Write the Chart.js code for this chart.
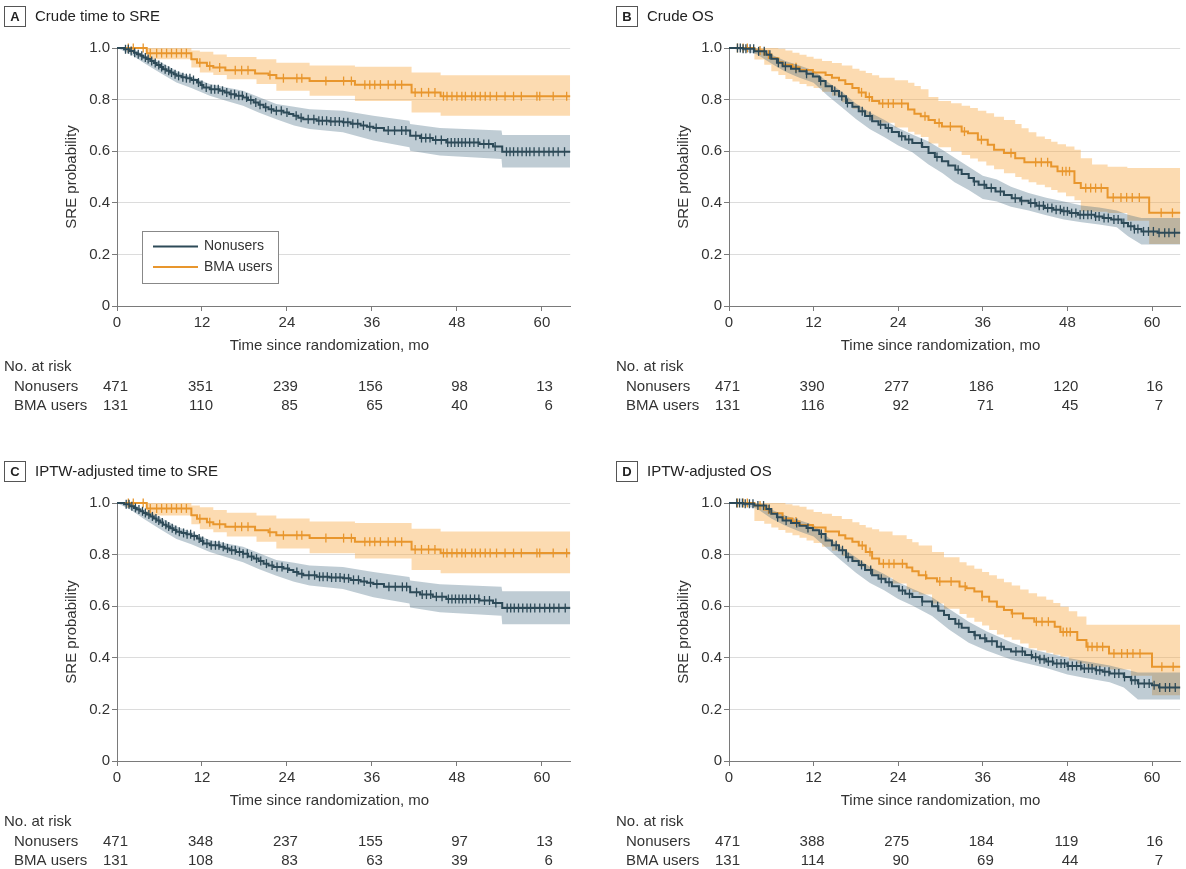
<!DOCTYPE html>
<html>
<head>
<meta charset="utf-8">
<script src="https://cdn.jsdelivr.net/npm/chart.js@4.4.0/dist/chart.umd.min.js"></script>
<style>
  html, body { margin: 0; padding: 0; background: #fff; }
  body { width: 1186px; height: 869px; position: relative; overflow: hidden; }
  canvas { position: absolute; }
</style>
</head>
<body>
<canvas id="panelA" width="576" height="414" style="left:0;top:0"></canvas>
<canvas id="panelB" width="574" height="414" style="left:612px;top:0"></canvas>
<canvas id="panelC" width="576" height="414" style="left:0;top:455px"></canvas>
<canvas id="panelD" width="574" height="414" style="left:612px;top:455px"></canvas>
<script>
// axes
var xTicks = [0, 12, 24, 36, 48, 60];
var yTicks = [0, 0.2, 0.4, 0.6, 0.8, 1.0];
var groups = ['Nonusers', 'BMA users'];

// ---- A: crude time to SRE ----
var aNonT = [0, 1.0, 1.8, 2.4, 2.8, 3.3, 3.7, 4.2, 4.7, 5.2, 5.6, 6.1, 6.5, 7.0, 7.5, 8.0, 8.4, 9.1, 9.8, 10.5, 11.3, 11.8, 12.2, 13.1, 14.5, 15.2, 15.9, 16.8, 17.8, 18.5, 19.3, 20.0, 20.7, 21.4, 22.1, 23.5, 24.3, 24.9, 25.6, 26.3, 28.2, 30.0, 31.9, 33.0, 34.4, 35.3, 36.2, 37.7, 41.4, 42.8, 44.6, 46.5, 51.2, 53.1, 54.4, 64];
var aNonS = [1, 0.995, 0.988, 0.982, 0.976, 0.97, 0.963, 0.957, 0.95, 0.942, 0.934, 0.926, 0.918, 0.912, 0.905, 0.898, 0.892, 0.887, 0.883, 0.876, 0.866, 0.857, 0.847, 0.84, 0.834, 0.828, 0.821, 0.815, 0.808, 0.798, 0.789, 0.78, 0.77, 0.763, 0.757, 0.75, 0.744, 0.737, 0.73, 0.724, 0.718, 0.715, 0.712, 0.706, 0.70, 0.695, 0.69, 0.68, 0.66, 0.651, 0.643, 0.634, 0.628, 0.618, 0.598, 0.598];
var aNonBandT = [0, 2, 3.7, 6, 8.4, 10.5, 13.1, 15.5, 17.8, 20, 22.5, 25, 27.2, 31.9, 36.2, 41.3, 41.4, 45.6, 54.3, 54.4, 64];
var aNonLo = [1, 0.975, 0.944, 0.905, 0.866, 0.845, 0.815, 0.795, 0.776, 0.75, 0.724, 0.70, 0.686, 0.673, 0.641, 0.615, 0.602, 0.583, 0.57, 0.537, 0.537];
var aNonHi = [1, 1, 0.976, 0.948, 0.911, 0.89, 0.86, 0.847, 0.834, 0.81, 0.783, 0.772, 0.763, 0.757, 0.737, 0.718, 0.705, 0.69, 0.68, 0.663, 0.663];
var aNonCens = [1.2, 1.6, 2.0, 2.5, 3.0, 3.5, 4.0, 4.4, 4.9, 5.4, 5.9, 6.3, 6.8, 7.3, 7.7, 8.2, 8.7, 9.3, 9.8, 10.3, 10.8, 11.5, 12.0, 12.6, 13.3, 13.8, 14.3, 14.9, 15.5, 16.1, 16.6, 17.2, 17.7, 18.3, 18.9, 19.6, 20.2, 21.0, 21.8, 22.5, 23.2, 24.0, 25.3, 26.0, 27.0, 27.8, 28.5, 29.0, 29.6, 30.2, 30.8, 31.4, 32.0, 32.6, 33.3, 34.0, 34.8, 35.7, 36.6, 38.3, 39.2, 40.2, 40.8, 42.2, 43.0, 43.6, 44.2, 45.0, 45.8, 46.7, 47.2, 47.7, 48.2, 48.7, 49.2, 49.8, 50.4, 51.0, 51.8, 52.5, 53.4, 55.0, 55.5, 56.0, 56.6, 57.2, 57.8, 58.3, 58.9, 59.6, 60.3, 61.0, 61.6, 62.3, 63.2];
var aBmaT = [0, 4.2, 10.5, 11.3, 12.7, 13.6, 15.3, 19.5, 21.4, 22.5, 27.2, 33.6, 41.6, 45.7, 64];
var aBmaS = [1, 0.98, 0.956, 0.943, 0.93, 0.924, 0.914, 0.901, 0.895, 0.883, 0.872, 0.858, 0.828, 0.813, 0.813];
var aBmaBandT = [0, 4.2, 10.5, 11.7, 13.6, 15.5, 19.7, 22.5, 27.2, 33.6, 41.6, 45.7, 64];
var aBmaLo = [1, 0.956, 0.924, 0.905, 0.895, 0.879, 0.86, 0.834, 0.815, 0.795, 0.75, 0.737, 0.737];
var aBmaHi = [1, 1, 0.99, 0.985, 0.975, 0.965, 0.956, 0.943, 0.932, 0.927, 0.905, 0.894, 0.894];
var aBmaCens = [1.6, 2.3, 3.7, 4.7, 5.6, 6.3, 7.0, 7.7, 8.4, 9.1, 9.8, 11.7, 13.1, 14.5, 16.7, 17.6, 18.5, 21.6, 23.5, 25.4, 26.1, 29.5, 32.0, 33.1, 35.0, 35.7, 36.4, 37.2, 38.3, 39.3, 40.2, 42.1, 43.0, 44.0, 44.9, 46.1, 46.6, 47.3, 48.0, 48.7, 49.2, 50.1, 50.6, 51.3, 52.0, 52.7, 53.6, 54.8, 56.0, 57.1, 59.3, 59.7, 61.6, 63.5];
var aRiskNon = [471, 351, 239, 156, 98, 13];
var aRiskBma = [131, 110, 85, 65, 40, 6];

// ---- B: crude OS ----
var bNonT = [0, 2.0, 3.6, 5.3, 6.0, 6.8, 7.6, 8.8, 10.0, 11.0, 11.9, 12.8, 13.7, 14.6, 15.6, 16.6, 17.5, 18.4, 19.3, 20.3, 21.2, 22.2, 23.1, 24.1, 25.0, 26.0, 27.4, 28.3, 29.2, 30.2, 31.1, 32.1, 33.0, 34.0, 34.7, 35.4, 36.5, 37.8, 39.0, 40.1, 41.3, 42.5, 43.6, 44.8, 46.0, 47.2, 48.3, 49.5, 51.9, 53.0, 54.2, 55.7, 56.6, 57.5, 58.5, 60.8, 64];
var bNonS = [1, 0.997, 0.987, 0.974, 0.958, 0.943, 0.929, 0.92, 0.91, 0.90, 0.89, 0.872, 0.852, 0.833, 0.813, 0.787, 0.772, 0.755, 0.736, 0.716, 0.703, 0.69, 0.674, 0.658, 0.645, 0.632, 0.616, 0.593, 0.578, 0.561, 0.545, 0.528, 0.512, 0.496, 0.483, 0.47, 0.457, 0.444, 0.43, 0.418, 0.408, 0.399, 0.389, 0.38, 0.373, 0.367, 0.36, 0.354, 0.347, 0.341, 0.335, 0.322, 0.309, 0.298, 0.289, 0.284, 0.284];
var bNonBandT = [0, 2, 4, 6, 8, 10, 12, 14, 16, 18, 20, 22, 24, 26, 28.3, 30.3, 32, 34, 36, 38, 40, 42.5, 45, 47.5, 50, 52.5, 55, 56.6, 58.5, 64];
var bNonLo = [1, 0.99, 0.975, 0.94, 0.908, 0.885, 0.865, 0.815, 0.77, 0.725, 0.685, 0.655, 0.622, 0.596, 0.548, 0.515, 0.48, 0.45, 0.415, 0.405, 0.385, 0.37, 0.352, 0.335, 0.325, 0.316, 0.305, 0.27, 0.238, 0.238];
var bNonHi = [1, 1, 0.997, 0.975, 0.95, 0.932, 0.913, 0.868, 0.83, 0.785, 0.75, 0.722, 0.69, 0.665, 0.638, 0.605, 0.575, 0.54, 0.505, 0.49, 0.462, 0.438, 0.42, 0.405, 0.39, 0.382, 0.37, 0.354, 0.341, 0.341];
var bNonCens = [1.2, 1.6, 2.0, 2.4, 3.0, 3.5, 4.2, 5.0, 5.8, 7.0, 8.0, 9.5, 11.0, 13.0, 15.0, 16.0, 16.8, 18.9, 20.0, 21.5, 22.6, 24.5, 25.5, 27.3, 29.5, 32.5, 34.8, 36.2, 37.2, 38.5, 40.6, 41.5, 42.8, 43.4, 44.0, 44.6, 45.2, 45.8, 46.4, 47.0, 47.5, 48.0, 48.6, 49.2, 49.8, 50.3, 50.9, 51.4, 52.0, 52.5, 53.2, 53.8, 54.6, 55.2, 56.0, 57.0, 57.5, 58.0, 58.8, 59.5, 60.2, 61.0, 61.8, 62.4, 63.2];
var bBmaT = [0, 3.6, 5.0, 6.0, 7.0, 7.6, 9.0, 10.0, 11.9, 13.7, 14.6, 15.6, 16.5, 17.5, 18.4, 19.4, 20.3, 21.3, 25.4, 26.3, 27.2, 28.3, 29.2, 30.2, 33.0, 33.9, 35.3, 36.7, 37.6, 39.0, 40.6, 41.9, 45.7, 46.6, 49.0, 49.9, 53.7, 59.6, 64];
var bBmaS = [1, 0.99, 0.975, 0.96, 0.945, 0.935, 0.925, 0.915, 0.905, 0.895, 0.885, 0.875, 0.86, 0.845, 0.828, 0.81, 0.795, 0.785, 0.762, 0.745, 0.735, 0.721, 0.709, 0.696, 0.676, 0.67, 0.644, 0.625, 0.606, 0.593, 0.573, 0.557, 0.541, 0.522, 0.477, 0.457, 0.421, 0.361, 0.361];
var bBmaBandT = [0, 3.6, 5, 6, 7, 8, 9, 10, 11, 12, 13.2, 14.6, 16, 17.5, 18.5, 19.4, 20.3, 21.3, 23.5, 25.4, 26.3, 27.2, 28.3, 29.7, 31.5, 33.0, 34.2, 35.3, 36.5, 37.6, 39, 40.6, 41.5, 42.5, 43.6, 44.8, 45.7, 46.6, 47.8, 49.0, 49.9, 51.5, 53.7, 56.5, 59.6, 64];
var bBmaLo = [1, 0.955, 0.935, 0.91, 0.895, 0.88, 0.87, 0.86, 0.852, 0.845, 0.83, 0.815, 0.79, 0.765, 0.75, 0.735, 0.722, 0.71, 0.692, 0.675, 0.665, 0.655, 0.63, 0.615, 0.60, 0.585, 0.572, 0.56, 0.545, 0.53, 0.515, 0.50, 0.49, 0.48, 0.47, 0.46, 0.45, 0.44, 0.425, 0.41, 0.367, 0.365, 0.36, 0.33, 0.24, 0.24];
var bBmaHi = [1, 1, 1, 1, 0.997, 0.99, 0.982, 0.974, 0.966, 0.958, 0.95, 0.942, 0.932, 0.92, 0.912, 0.903, 0.894, 0.885, 0.875, 0.865, 0.853, 0.84, 0.81, 0.795, 0.786, 0.776, 0.767, 0.757, 0.747, 0.734, 0.721, 0.705, 0.689, 0.673, 0.657, 0.647, 0.637, 0.627, 0.618, 0.606, 0.573, 0.548, 0.54, 0.535, 0.535, 0.535];
var bBmaCens = [1.2, 2.0, 2.6, 4.4, 5.6, 9.5, 18.8, 19.9, 21.8, 22.6, 23.3, 24.5, 27.8, 29.8, 31.4, 33.4, 35.8, 40.0, 43.5, 44.3, 45.2, 47.3, 47.8, 48.3, 50.6, 51.3, 52.0, 52.8, 54.5, 55.6, 56.4, 57.2, 58.2, 61.3, 62.9];
var bRiskNon = [471, 390, 277, 186, 120, 16];
var bRiskBma = [131, 116, 92, 71, 45, 7];

// ---- C: IPTW-adjusted time to SRE ----
var cNonT = [0, 1.0, 1.8, 2.4, 2.8, 3.3, 3.7, 4.2, 4.7, 5.2, 5.6, 6.1, 6.5, 7.0, 7.5, 8.0, 8.4, 9.1, 9.8, 10.5, 11.3, 11.8, 12.2, 13.1, 14.5, 15.2, 15.9, 16.8, 17.8, 18.5, 19.3, 20.0, 20.7, 21.4, 22.1, 23.5, 24.3, 24.9, 25.6, 26.3, 28.2, 30.0, 31.9, 33.0, 34.4, 35.3, 36.2, 37.7, 41.4, 42.8, 44.6, 46.5, 51.2, 53.1, 54.4, 64];
var cNonS = [1, 0.995, 0.987, 0.981, 0.975, 0.968, 0.961, 0.955, 0.948, 0.94, 0.932, 0.924, 0.916, 0.909, 0.902, 0.895, 0.889, 0.884, 0.879, 0.872, 0.862, 0.853, 0.843, 0.836, 0.83, 0.824, 0.817, 0.81, 0.803, 0.793, 0.785, 0.775, 0.765, 0.758, 0.752, 0.746, 0.74, 0.733, 0.726, 0.72, 0.714, 0.711, 0.708, 0.702, 0.696, 0.691, 0.686, 0.675, 0.654, 0.645, 0.637, 0.628, 0.622, 0.612, 0.593, 0.593];
var cNonBandT = [0, 2, 3.7, 6, 8.4, 10.5, 13.1, 15.5, 17.8, 20, 22.5, 25, 27.2, 31.9, 36.2, 41.3, 41.4, 45.6, 54.3, 54.4, 64];
var cNonLo = [1, 0.973, 0.94, 0.9, 0.86, 0.84, 0.81, 0.79, 0.77, 0.744, 0.718, 0.695, 0.68, 0.667, 0.635, 0.61, 0.595, 0.577, 0.563, 0.53, 0.53];
var cNonHi = [1, 1, 0.975, 0.946, 0.909, 0.887, 0.857, 0.843, 0.83, 0.806, 0.779, 0.768, 0.758, 0.752, 0.733, 0.713, 0.70, 0.685, 0.675, 0.658, 0.658];
var cNonCens = [1.3, 1.7, 2.1, 2.6, 3.1, 3.6, 4.0, 4.5, 5.0, 5.5, 5.9, 6.4, 6.9, 7.3, 7.8, 8.3, 8.8, 9.4, 9.9, 10.4, 10.9, 11.6, 12.1, 12.7, 13.3, 13.9, 14.4, 15.0, 15.6, 16.2, 16.7, 17.3, 17.8, 18.4, 19.0, 19.7, 20.3, 21.1, 21.9, 22.6, 23.3, 24.1, 25.4, 26.1, 27.1, 27.9, 28.6, 29.1, 29.7, 30.3, 30.9, 31.5, 32.1, 32.7, 33.4, 34.1, 34.9, 35.8, 36.7, 38.4, 39.3, 40.3, 40.9, 42.3, 43.1, 43.7, 44.3, 45.1, 45.9, 46.8, 47.3, 47.8, 48.3, 48.8, 49.3, 49.9, 50.5, 51.1, 51.9, 52.6, 53.5, 55.1, 55.6, 56.1, 56.7, 57.3, 57.9, 58.4, 59.0, 59.7, 60.4, 61.1, 61.7, 62.4, 63.3];
var cBmaT = [0, 4.2, 10.5, 11.3, 12.7, 13.6, 15.3, 19.5, 21.4, 22.5, 27.2, 33.6, 41.6, 45.7, 64];
var cBmaS = [1, 0.979, 0.953, 0.939, 0.925, 0.918, 0.908, 0.894, 0.887, 0.875, 0.864, 0.85, 0.82, 0.806, 0.806];
var cBmaBandT = [0, 4.2, 10.5, 11.7, 13.6, 15.5, 19.7, 22.5, 27.2, 33.6, 41.6, 45.7, 64];
var cBmaLo = [1, 0.952, 0.918, 0.898, 0.887, 0.87, 0.85, 0.824, 0.805, 0.785, 0.74, 0.728, 0.728];
var cBmaHi = [1, 1, 0.99, 0.984, 0.973, 0.962, 0.952, 0.94, 0.928, 0.922, 0.90, 0.89, 0.89];
var cBmaCens = [1.6, 2.3, 3.7, 4.7, 5.6, 6.3, 7.0, 7.7, 8.4, 9.1, 9.8, 11.7, 13.1, 14.5, 16.7, 17.6, 18.5, 21.6, 23.5, 25.4, 26.1, 29.5, 32.0, 33.1, 35.0, 35.7, 36.4, 37.2, 38.3, 39.3, 40.2, 42.1, 43.0, 44.0, 44.9, 46.1, 46.6, 47.3, 48.0, 48.7, 49.2, 50.1, 50.6, 51.3, 52.0, 52.7, 53.6, 54.8, 56.0, 57.1, 59.3, 59.7, 61.6, 63.5];
var cRiskNon = [471, 348, 237, 155, 97, 13];
var cRiskBma = [131, 108, 83, 63, 39, 6];

// ---- D: IPTW-adjusted OS ----
var dNonT = [0, 2.0, 3.6, 5.3, 6.0, 6.8, 7.6, 8.8, 10.0, 11.0, 11.9, 12.8, 13.7, 14.6, 15.6, 16.6, 17.5, 18.4, 19.3, 20.3, 21.2, 22.2, 23.1, 24.1, 25.0, 26.0, 27.4, 28.8, 29.7, 30.5, 31.2, 32.1, 33.0, 34.0, 34.8, 35.6, 36.5, 38.0, 39.0, 40.0, 42.0, 43.0, 44.0, 45.0, 46.0, 48.0, 50.0, 52.0, 53.0, 54.0, 56.0, 57.0, 58.0, 60.0, 61.0, 64];
var dNonS = [1, 0.997, 0.99, 0.977, 0.958, 0.945, 0.932, 0.922, 0.912, 0.903, 0.894, 0.88, 0.855, 0.836, 0.817, 0.79, 0.775, 0.76, 0.74, 0.72, 0.706, 0.693, 0.677, 0.661, 0.648, 0.636, 0.618, 0.60, 0.582, 0.566, 0.55, 0.532, 0.516, 0.50, 0.487, 0.476, 0.464, 0.443, 0.433, 0.424, 0.411, 0.402, 0.394, 0.386, 0.378, 0.368, 0.359, 0.352, 0.346, 0.339, 0.326, 0.313, 0.30, 0.294, 0.285, 0.285];
var dNonBandT = [0, 2, 4, 6, 8, 10, 12, 14, 16, 18, 20, 22, 24, 26, 28.8, 31.2, 34, 36.5, 40, 42, 45, 48, 50, 54, 56, 58, 64];
var dNonLo = [1, 0.99, 0.978, 0.94, 0.912, 0.89, 0.87, 0.822, 0.775, 0.73, 0.69, 0.662, 0.628, 0.603, 0.562, 0.51, 0.458, 0.428, 0.393, 0.38, 0.36, 0.335, 0.325, 0.305, 0.285, 0.238, 0.238];
var dNonHi = [1, 1, 0.997, 0.975, 0.952, 0.933, 0.915, 0.868, 0.828, 0.79, 0.752, 0.725, 0.693, 0.668, 0.635, 0.59, 0.54, 0.503, 0.46, 0.44, 0.42, 0.40, 0.39, 0.37, 0.357, 0.343, 0.343];
var dNonCens = [1.1, 1.5, 1.9, 2.3, 2.9, 3.4, 4.1, 4.9, 5.7, 6.9, 8.1, 9.6, 11.2, 13.1, 15.2, 16.1, 16.9, 18.8, 20.1, 21.6, 22.7, 24.6, 25.6, 27.4, 29.6, 32.6, 34.9, 36.3, 37.3, 38.6, 40.7, 41.6, 42.9, 43.5, 44.1, 44.7, 45.3, 45.9, 46.5, 47.1, 47.6, 48.1, 48.7, 49.3, 49.9, 50.4, 51.0, 51.5, 52.1, 52.6, 53.3, 53.9, 54.7, 55.3, 56.1, 57.1, 57.6, 58.1, 58.9, 59.6, 60.3, 61.1, 61.9, 62.5, 63.3];
var dBmaT = [0, 3.6, 5.0, 6.0, 7.6, 9.0, 10.0, 11.9, 13.7, 15.6, 16.5, 17.5, 18.4, 19.4, 20.3, 21.3, 25.2, 26.0, 26.9, 28.0, 29.5, 32.7, 33.7, 34.8, 35.9, 36.9, 38.0, 39.0, 40.1, 41.7, 43.3, 46.2, 47.0, 49.4, 50.7, 53.9, 60.0, 64];
var dBmaS = [1, 0.99, 0.975, 0.96, 0.94, 0.928, 0.915, 0.905, 0.89, 0.875, 0.862, 0.85, 0.835, 0.81, 0.785, 0.765, 0.75, 0.735, 0.72, 0.708, 0.696, 0.676, 0.67, 0.657, 0.637, 0.618, 0.598, 0.585, 0.572, 0.553, 0.54, 0.52, 0.50, 0.469, 0.443, 0.417, 0.365, 0.365];
var dBmaBandT = [0, 3.6, 5, 6, 7, 8, 9, 10, 11, 12, 13.2, 14.6, 16, 17.5, 18.5, 19.4, 20.3, 21.3, 23.2, 25.2, 26.0, 26.9, 28.8, 30.5, 32.7, 33.7, 34.8, 35.9, 36.9, 38.0, 39.0, 40.1, 41.3, 42.5, 43.7, 45, 46.0, 47.0, 48.2, 49.4, 50.7, 53.9, 57, 60.0, 64];
var dBmaLo = [1, 0.93, 0.92, 0.905, 0.895, 0.885, 0.875, 0.865, 0.855, 0.845, 0.83, 0.815, 0.795, 0.77, 0.752, 0.735, 0.722, 0.71, 0.688, 0.665, 0.655, 0.645, 0.61, 0.59, 0.57, 0.555, 0.54, 0.525, 0.508, 0.49, 0.48, 0.47, 0.455, 0.437, 0.428, 0.42, 0.412, 0.404, 0.39, 0.378, 0.365, 0.355, 0.33, 0.255, 0.255];
var dBmaHi = [1, 1, 1, 1, 1, 0.995, 0.99, 0.985, 0.975, 0.965, 0.958, 0.95, 0.938, 0.925, 0.915, 0.905, 0.898, 0.89, 0.875, 0.86, 0.848, 0.835, 0.81, 0.79, 0.77, 0.758, 0.745, 0.733, 0.72, 0.706, 0.693, 0.68, 0.665, 0.65, 0.638, 0.625, 0.612, 0.598, 0.58, 0.56, 0.528, 0.528, 0.528, 0.528, 0.528];
var dBmaCens = [1.2, 2.0, 2.6, 4.4, 5.6, 9.5, 18.9, 20.0, 21.9, 22.7, 23.4, 24.6, 27.9, 29.9, 31.5, 33.5, 35.9, 40.2, 43.6, 44.4, 45.3, 47.4, 47.9, 48.4, 50.9, 51.5, 52.2, 53.0, 54.6, 55.7, 56.5, 57.3, 58.3, 61.4, 63.0];
var dRiskNon = [471, 388, 275, 184, 119, 16];
var dRiskBma = [131, 114, 90, 69, 44, 7];

// ---- styling ----
var FONT = '"Liberation Sans", Arial, sans-serif';
var TEXT = '#333333';
var AXIS = '#7a7a7a';
var GRID = '#dcdcdc';
var NON_LINE = '#2d4a58';
var NON_BAND = 'rgba(60,100,125,0.33)';
var BMA_LINE = '#e8962d';
var BMA_BAND = 'rgba(248,170,70,0.42)';

function pts(ts, vs) {
  return ts.map(function (t, i) { return {x: t, y: vs[i]}; });
}

// censor mark sits on the step curve at its time
function stepAt(ts, ss, t) {
  var v = ss[0];
  for (var i = 0; i < ts.length; i++) {
    if (ts[i] <= t) v = ss[i]; else break;
  }
  return v;
}

function censPts(cens, ts, ss) {
  return cens.map(function (t) { return {x: t, y: stepAt(ts, ss, t)}; });
}

var panelDecor = {
  id: 'panelDecor',
  afterDraw: function (chart, args, opts) {
    var ctx = chart.ctx;
    var xs = chart.scales.x;
    ctx.save();
    // panel letter and title
    ctx.strokeStyle = '#555';
    ctx.lineWidth = 1;
    ctx.strokeRect(4.5, 6.5, 21, 20);
    ctx.fillStyle = '#222';
    ctx.font = 'bold 13px ' + FONT;
    ctx.textAlign = 'center';
    ctx.textBaseline = 'middle';
    ctx.fillText(opts.letter, 15, 17);
    ctx.font = '15px ' + FONT;
    ctx.textAlign = 'left';
    ctx.fillText(opts.title, 35, 16.5);

    ctx.fillStyle = TEXT;
    ctx.textAlign = 'center';
    ctx.fillText('Time since randomization, mo', xs.getPixelForValue(30), 346);

    // number at risk
    ctx.textAlign = 'left';
    ctx.fillText('No. at risk', 4, 367);
    ctx.fillText(groups[0], 14, 387);
    ctx.fillText(groups[1], 14, 406);
    ctx.textAlign = 'right';
    xTicks.forEach(function (t, i) {
      var px = xs.getPixelForValue(t) + 11;
      ctx.fillText(String(opts.riskNon[i]), px, 387);
      ctx.fillText(String(opts.riskBma[i]), px, 406);
    });

    if (opts.legend) {
      ctx.fillStyle = '#fff';
      ctx.fillRect(142.5, 231.5, 136, 52);
      ctx.strokeStyle = '#888';
      ctx.strokeRect(142.5, 231.5, 136, 52);
      ctx.lineWidth = 2;
      ctx.strokeStyle = NON_LINE;
      ctx.beginPath(); ctx.moveTo(153, 246.5); ctx.lineTo(198, 246.5); ctx.stroke();
      ctx.strokeStyle = BMA_LINE;
      ctx.beginPath(); ctx.moveTo(153, 267); ctx.lineTo(198, 267); ctx.stroke();
      ctx.fillStyle = TEXT;
      ctx.font = '14px ' + FONT;
      ctx.textAlign = 'left';
      ctx.fillText(groups[0], 204, 246);
      ctx.fillText(groups[1], 204, 267);
    }
    ctx.restore();
  }
};

function makePanel(id, p) {
  var tickFont = {family: FONT, size: 15};
  var datasets = [
    // BMA users band
    {data: pts(p.bmaBandT, p.bmaLo), stepped: true, borderWidth: 0, borderColor: 'rgba(0,0,0,0)',
     pointRadius: 0, fill: false, order: 8},
    {data: pts(p.bmaBandT, p.bmaHi), stepped: true, borderWidth: 0, borderColor: 'rgba(0,0,0,0)',
     pointRadius: 0, fill: '-1', backgroundColor: BMA_BAND, order: 7},
    // Nonusers band
    {data: pts(p.nonBandT, p.nonLo), stepped: false, borderWidth: 0, borderColor: 'rgba(0,0,0,0)',
     pointRadius: 0, fill: false, order: 6},
    {data: pts(p.nonBandT, p.nonHi), stepped: false, borderWidth: 0, borderColor: 'rgba(0,0,0,0)',
     pointRadius: 0, fill: '-1', backgroundColor: NON_BAND, order: 5},
    // BMA users curve + censoring
    {label: groups[1], data: pts(p.bmaT, p.bmaS), stepped: true, borderColor: BMA_LINE, borderWidth: 2,
     pointRadius: 0, fill: false, order: 4},
    {data: censPts(p.bmaCens, p.bmaT, p.bmaS), showLine: false, pointStyle: 'line', rotation: 90,
     pointRadius: 4.5, pointBorderWidth: 1.3, pointBorderColor: BMA_LINE, order: 3},
    // Nonusers curve + censoring
    {label: groups[0], data: pts(p.nonT, p.nonS), stepped: true, borderColor: NON_LINE, borderWidth: 2,
     pointRadius: 0, fill: false, order: 2},
    {data: censPts(p.nonCens, p.nonT, p.nonS), showLine: false, pointStyle: 'line', rotation: 90,
     pointRadius: 4.5, pointBorderWidth: 1.3, pointBorderColor: NON_LINE, order: 1}
  ];
  datasets.forEach(function (d) { d.clip = false; });

  return new Chart(document.getElementById(id), {
    type: 'line',
    data: {datasets: datasets},
    plugins: [panelDecor],
    options: {
      responsive: false,
      animation: false,
      events: [],
      layout: {padding: {top: 48, right: 5, bottom: 78, left: 0}},
      plugins: {
        legend: {display: false},
        tooltip: {enabled: false},
        panelDecor: {letter: p.letter, title: p.title, riskNon: p.riskNon, riskBma: p.riskBma, legend: p.legend}
      },
      scales: {
        x: {
          type: 'linear', min: 0, max: 64,
          afterBuildTicks: function (s) { s.ticks = xTicks.map(function (v) { return {value: v}; }); },
          afterFit: function (s) { s.height = 30; },
          grid: {drawOnChartArea: false, tickLength: 5, tickColor: AXIS},
          border: {color: AXIS},
          ticks: {font: tickFont, color: TEXT, padding: 3, maxRotation: 0,
                  callback: function (v) { return String(v); }}
        },
        y: {
          type: 'linear', min: 0, max: 1,
          afterBuildTicks: function (s) { s.ticks = yTicks.map(function (v) { return {value: v}; }); },
          afterFit: function (s) { s.width = 117; },
          grid: {color: GRID, tickLength: 5, tickColor: AXIS},
          border: {color: AXIS},
          ticks: {font: tickFont, color: TEXT, padding: 2,
                  callback: function (v) { return v === 0 ? '0' : v.toFixed(1); }},
          title: {display: true, text: 'SRE probability', font: tickFont, color: TEXT,
                  padding: {top: 63, bottom: 0}}
        }
      }
    }
  });
}

makePanel('panelA', {letter: 'A', title: 'Crude time to SRE', legend: true,
  nonT: aNonT, nonS: aNonS, nonBandT: aNonBandT, nonLo: aNonLo, nonHi: aNonHi, nonCens: aNonCens,
  bmaT: aBmaT, bmaS: aBmaS, bmaBandT: aBmaBandT, bmaLo: aBmaLo, bmaHi: aBmaHi, bmaCens: aBmaCens,
  riskNon: aRiskNon, riskBma: aRiskBma});
makePanel('panelB', {letter: 'B', title: 'Crude OS', legend: false,
  nonT: bNonT, nonS: bNonS, nonBandT: bNonBandT, nonLo: bNonLo, nonHi: bNonHi, nonCens: bNonCens,
  bmaT: bBmaT, bmaS: bBmaS, bmaBandT: bBmaBandT, bmaLo: bBmaLo, bmaHi: bBmaHi, bmaCens: bBmaCens,
  riskNon: bRiskNon, riskBma: bRiskBma});
makePanel('panelC', {letter: 'C', title: 'IPTW-adjusted time to SRE', legend: false,
  nonT: cNonT, nonS: cNonS, nonBandT: cNonBandT, nonLo: cNonLo, nonHi: cNonHi, nonCens: cNonCens,
  bmaT: cBmaT, bmaS: cBmaS, bmaBandT: cBmaBandT, bmaLo: cBmaLo, bmaHi: cBmaHi, bmaCens: cBmaCens,
  riskNon: cRiskNon, riskBma: cRiskBma});
makePanel('panelD', {letter: 'D', title: 'IPTW-adjusted OS', legend: false,
  nonT: dNonT, nonS: dNonS, nonBandT: dNonBandT, nonLo: dNonLo, nonHi: dNonHi, nonCens: dNonCens,
  bmaT: dBmaT, bmaS: dBmaS, bmaBandT: dBmaBandT, bmaLo: dBmaLo, bmaHi: dBmaHi, bmaCens: dBmaCens,
  riskNon: dRiskNon, riskBma: dRiskBma});
</script>
</body>
</html>
